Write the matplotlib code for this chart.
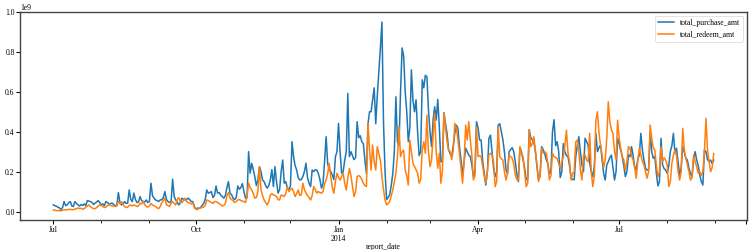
import pandas as pd
import matplotlib
matplotlib.use('Agg')
import matplotlib.pyplot as plt

plt.rcParams['font.family'] = 'serif'
plt.rcParams['font.serif'] = ['Liberation Serif', 'DejaVu Serif']
plt.rcParams['font.size'] = 11

# daily totals in millions, one row per week (Mon..Sun), 2013-07-01 .. 2014-08-31
purchase_m = [
    33, 30, 26, 22, 18, 9, 20,
    50, 30, 33, 45, 50, 28, 25,
    50, 40, 33, 28, 35, 30, 38,
    30, 55, 52, 50, 45, 35, 42,
    48, 55, 45, 33, 38, 30, 50,
    45, 37, 40, 42, 35, 28, 30,
    95, 45, 33, 38, 50, 40, 42,
    108, 60, 50, 92, 60, 45, 48,
    75, 55, 50, 48, 58, 45, 50,
    142, 80, 67, 58, 55, 50, 58,
    60, 70, 100, 60, 50, 45, 50,
    162, 75, 58, 45, 33, 45, 67,
    62, 58, 60, 67, 60, 50, 50,
    25, 12, 17, 15, 20, 30, 40,
    60, 108, 92, 95, 100, 70, 80,
    128, 92, 95, 83, 75, 67, 80,
    120, 150, 92, 85, 67, 60, 70,
    128, 112, 120, 140, 100, 67, 70,
    300, 192, 242, 210, 175, 130, 158,
    225, 200, 158, 150, 130, 117, 130,
    158, 210, 125, 225, 150, 92, 110,
    200, 258, 142, 150, 117, 110, 130,
    350, 275, 230, 208, 170, 158, 160,
    175, 200, 242, 170, 142, 125, 208,
    200, 210, 208, 190, 160, 117, 140,
    250, 375, 240, 208, 200, 183, 160,
    275, 300, 442, 300, 192, 200, 258,
    300, 592, 275, 300, 280, 260, 270,
    450, 370, 380, 350, 340, 260, 190,
    440, 500, 500, 560, 620, 440, 580,
    700, 820, 950, 450, 200, 60, 70,
    85, 130, 190, 300, 575, 350, 330,
    600, 820, 780, 600, 500, 350, 420,
    710, 560, 500, 560, 400, 280, 300,
    660, 620, 683, 675, 508, 400, 325,
    460, 525, 458, 562, 425, 250, 250,
    495, 440, 392, 308, 290, 275, 330,
    392, 433, 417, 325, 260, 183, 250,
    317, 300, 283, 275, 233, 175, 200,
    450, 420, 358, 358, 250, 192, 133,
    200, 367, 383, 300, 217, 175, 200,
    433, 440, 400, 360, 300, 210, 190,
    300, 310, 320, 300, 250, 190, 150,
    320, 300, 260, 220, 160, 160, 410,
    370, 360, 350, 300, 225, 160, 180,
    325, 310, 290, 260, 240, 190, 200,
    400, 460, 330, 350, 300, 170, 200,
    340, 300, 280, 275, 230, 167, 160,
    160, 275, 330, 375, 300, 233, 200,
    367, 350, 333, 242, 200, 175, 230,
    392, 300, 320, 333, 260, 190, 158,
    233, 250, 270, 283, 220, 158, 200,
    367, 340, 308, 275, 230, 175, 200,
    283, 275, 325, 280, 225, 208, 260,
    283, 392, 308, 258, 217, 208, 210,
    400, 300, 267, 275, 192, 128, 150,
    367, 233, 215, 208, 192, 230, 300,
    330, 392, 292, 317, 250, 183, 220,
    325, 300, 267, 258, 217, 190, 175,
    260, 300, 258, 230, 183, 150, 133,
    308, 300, 260, 250, 258, 240, 258,
]

redeem_m = [
    8, 6, 5, 4, 5, 3, 6,
    9, 8, 9, 10, 12, 8, 10,
    12, 14, 18, 15, 16, 12, 14,
    22, 28, 33, 25, 18, 15, 14,
    20, 28, 33, 30, 25, 20, 22,
    30, 33, 30, 28, 28, 25, 28,
    50, 40, 50, 35, 25, 20, 22,
    30, 33, 28, 33, 30, 25, 28,
    42, 38, 50, 35, 25, 22, 28,
    40, 33, 28, 25, 18, 15, 25,
    45, 55, 67, 33, 30, 25, 42,
    50, 40, 33, 60, 70, 50, 45,
    55, 67, 50, 45, 42, 38, 45,
    20, 12, 10, 17, 18, 20, 22,
    30, 58, 55, 50, 45, 40, 50,
    50, 45, 40, 35, 28, 30, 40,
    80, 95, 67, 60, 55, 45, 50,
    58, 60, 55, 52, 50, 45, 75,
    142, 120, 108, 90, 67, 70, 100,
    225, 108, 80, 58, 45, 33, 50,
    83, 90, 83, 80, 75, 60, 58,
    83, 80, 75, 90, 125, 100, 110,
    117, 100, 75, 90, 108, 80, 85,
    142, 110, 92, 80, 70, 58, 80,
    125, 110, 92, 100, 95, 92, 100,
    140, 158, 190, 242, 175, 120, 92,
    150, 192, 170, 158, 175, 192, 140,
    108, 170, 215, 180, 125, 75, 100,
    175, 180, 175, 160, 142, 130, 125,
    442, 308, 208, 333, 250, 208, 325,
    290, 258, 175, 110, 58, 33, 40,
    50, 80, 108, 150, 192, 275, 425,
    275, 300, 308, 208, 180, 133, 358,
    300, 242, 225, 210, 192, 142, 160,
    308, 350, 292, 483, 300, 225, 258,
    380, 492, 300, 217, 292, 142, 200,
    495, 420, 350, 308, 300, 260, 308,
    442, 417, 360, 292, 220, 142, 250,
    433, 358, 450, 358, 280, 158, 180,
    425, 275, 280, 275, 225, 175, 142,
    200, 283, 292, 283, 250, 125, 150,
    425, 275, 265, 258, 200, 158, 192,
    283, 275, 267, 240, 183, 160, 158,
    325, 290, 275, 200, 125, 140, 408,
    325, 340, 375, 300, 233, 150, 180,
    317, 292, 300, 292, 240, 158, 180,
    292, 275, 270, 267, 240, 217, 250,
    275, 330, 408, 292, 250, 158, 192,
    200, 350, 358, 300, 208, 158, 283,
    283, 258, 250, 392, 200, 125, 180,
    458, 500, 392, 330, 283, 220, 258,
    367, 550, 450, 408, 392, 300, 260,
    458, 367, 317, 275, 258, 208, 250,
    325, 317, 280, 258, 220, 167, 250,
    317, 283, 250, 233, 200, 167, 200,
    433, 367, 320, 308, 230, 175, 200,
    325, 250, 270, 258, 233, 125, 150,
    242, 283, 308, 280, 200, 158, 200,
    417, 308, 267, 233, 200, 158, 170,
    283, 250, 225, 192, 200, 180, 200,
    300, 467, 308, 250, 200, 220, 290,
]

y_ticks = [0.0, 0.2e9, 0.4e9, 0.6e9, 0.8e9, 1.0e9]

dates = pd.date_range('2013-07-01', '2014-08-31', freq='D')
df = pd.DataFrame({'total_purchase_amt': [v * 1e6 for v in purchase_m],
                   'total_redeem_amt': [v * 1e6 for v in redeem_m]},
                  index=dates)
df.index.name = 'report_date'

fig, ax = plt.subplots(figsize=(14.98, 5), dpi=50)
df.plot(ax=ax, linewidth=2.2)

# same 5% padding on x as on y
lo, hi = ax.get_xlim()
pad = (hi - lo) * 0.05
ax.set_xlim(lo - pad, hi + pad)
ax.set_ylim(-0.0425e9, 1.0e9)
ax.set_yticks(y_ticks)

for s in ax.spines.values():
    s.set_linewidth(2.0)
    s.set_color('#444444')
ax.tick_params(which='major', length=6, width=1.5, pad=2)
ax.tick_params(which='minor', length=4, width=1.2)
ax.xaxis.labelpad = 0
ax.legend(loc='upper right')

fig.subplots_adjust(left=0.027, right=0.997, bottom=0.12, top=0.952)
fig.savefig('out.png', dpi=50)
